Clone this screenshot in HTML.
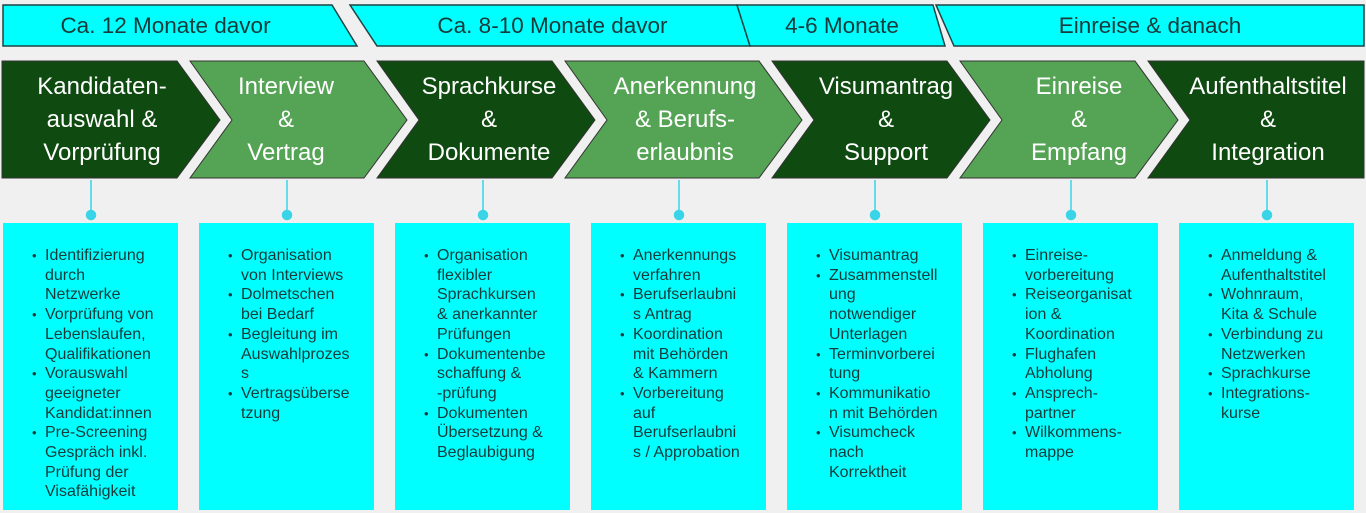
<!DOCTYPE html>
<html><head><meta charset="utf-8"><style>
body{margin:0;width:1366px;height:513px;background:#f0f0f0;position:relative;overflow:hidden;font-family:"Liberation Sans",Arial,sans-serif}
svg{position:absolute;left:0;top:0}
.h{position:absolute;top:5px;height:41px;line-height:42px;font-size:22.5px;color:#173b3b;text-align:center;white-space:nowrap}
.c{position:absolute;top:70px;font-size:24px;line-height:33px;color:#fff;text-align:center;white-space:nowrap;width:200px}
.b{position:absolute;top:246px;font-size:16px;line-height:19.7px;color:#173b3b;white-space:nowrap}
.b div{padding-left:13px;position:relative}
.b div.s::before{content:"•";position:absolute;left:0;font-size:13px}
</style></head><body>
<svg width="1366" height="513">
<g fill="#00ffff" stroke="#1d4444" stroke-width="1.5">
<polygon points="3,5 332,5 357,46 3,46"/>
<polygon points="350,5 737,5 750,46 377,46"/>
<polygon points="737,5 933,5 945,46 750,46"/>
<polygon points="936,5 1364,5 1364,46 954,46"/>
</g>
<g stroke="#333" stroke-width="1">
<polygon fill="#0f4a10" points="2,61 177,61 220,120 177,178 2,178"/>
<polygon fill="#55a355" points="190,61 364,61 407,120 364,178 190,178 232,120"/>
<polygon fill="#0f4a10" points="377,61 552,61 595,120 552,178 377,178 419,120"/>
<polygon fill="#55a355" points="565,61 759,61 802,120 759,178 565,178 607,120"/>
<polygon fill="#0f4a10" points="772,61 947,61 990,120 947,178 772,178 814,120"/>
<polygon fill="#55a355" points="960,61 1135,61 1178,120 1135,178 960,178 1002,120"/>
<polygon fill="#0f4a10" points="1148,61 1364,61 1364,178 1148,178 1190,120"/>
</g>
<g fill="#00ffff">
<rect x="3" y="223" width="175" height="287"/><rect x="199" y="223" width="175" height="287"/>
<rect x="395" y="223" width="175" height="287"/><rect x="591" y="223" width="175" height="287"/>
<rect x="787" y="223" width="175" height="287"/><rect x="983" y="223" width="175" height="287"/>
<rect x="1179" y="223" width="175" height="287"/>
</g>
<g stroke="#3ad4e8" stroke-width="1.5" fill="#3ad4e8">
<line x1="91" y1="180" x2="91" y2="214"/><circle cx="91" cy="215" r="4.5"/>
<line x1="287" y1="180" x2="287" y2="214"/><circle cx="287" cy="215" r="4.5"/>
<line x1="483" y1="180" x2="483" y2="214"/><circle cx="483" cy="215" r="4.5"/>
<line x1="679" y1="180" x2="679" y2="214"/><circle cx="679" cy="215" r="4.5"/>
<line x1="875" y1="180" x2="875" y2="214"/><circle cx="875" cy="215" r="4.5"/>
<line x1="1071" y1="180" x2="1071" y2="214"/><circle cx="1071" cy="215" r="4.5"/>
<line x1="1267" y1="180" x2="1267" y2="214"/><circle cx="1267" cy="215" r="4.5"/>
</g>
</svg>
<div class="h" style="left:3px;width:325px">Ca. 12 Monate davor</div>
<div class="h" style="left:380px;width:345px">Ca. 8-10 Monate davor</div>
<div class="h" style="left:752px;width:180px">4-6 Monate</div>
<div class="h" style="left:950px;width:400px">Einreise &amp; danach</div>

<div class="c" style="left:2px">Kandidaten-<br>auswahl &amp;<br>Vorprüfung</div>
<div class="c" style="left:186px">Interview<br>&amp;<br>Vertrag</div>
<div class="c" style="left:389px">Sprachkurse<br>&amp;<br>Dokumente</div>
<div class="c" style="left:585px">Anerkennung<br>&amp; Berufs-<br>erlaubnis</div>
<div class="c" style="left:786px">Visumantrag<br>&amp;<br>Support</div>
<div class="c" style="left:979px">Einreise<br>&amp;<br>Empfang</div>
<div class="c" style="left:1168px">Aufenthaltstitel<br>&amp;<br>Integration</div>

<div class="b" style="left:32px"><div class="s">Identifizierung</div><div>durch</div><div>Netzwerke</div><div class="s">Vorprüfung von</div><div>Lebenslaufen,</div><div>Qualifikationen</div><div class="s">Vorauswahl</div><div>geeigneter</div><div>Kandidat:innen</div><div class="s">Pre-Screening</div><div>Gespräch inkl.</div><div>Prüfung der</div><div>Visafähigkeit</div></div>
<div class="b" style="left:228px"><div class="s">Organisation</div><div>von Interviews</div><div class="s">Dolmetschen</div><div>bei Bedarf</div><div class="s">Begleitung im</div><div>Auswahlprozes</div><div>s</div><div class="s">Vertragsüberse</div><div>tzung</div></div>
<div class="b" style="left:424px"><div class="s">Organisation</div><div>flexibler</div><div>Sprachkursen</div><div>&amp; anerkannter</div><div>Prüfungen</div><div class="s">Dokumentenbe</div><div>schaffung &amp;</div><div>-prüfung</div><div class="s">Dokumenten</div><div>Übersetzung &amp;</div><div>Beglaubigung</div></div>
<div class="b" style="left:620px"><div class="s">Anerkennungs</div><div>verfahren</div><div class="s">Berufserlaubni</div><div>s Antrag</div><div class="s">Koordination</div><div>mit Behörden</div><div>&amp; Kammern</div><div class="s">Vorbereitung</div><div>auf</div><div>Berufserlaubni</div><div>s / Approbation</div></div>
<div class="b" style="left:816px"><div class="s">Visumantrag</div><div class="s">Zusammenstell</div><div>ung</div><div>notwendiger</div><div>Unterlagen</div><div class="s">Terminvorberei</div><div>tung</div><div class="s">Kommunikatio</div><div>n mit Behörden</div><div class="s">Visumcheck</div><div>nach</div><div>Korrektheit</div></div>
<div class="b" style="left:1012px"><div class="s">Einreise-</div><div>vorbereitung</div><div class="s">Reiseorganisat</div><div>ion &amp;</div><div>Koordination</div><div class="s">Flughafen</div><div>Abholung</div><div class="s">Ansprech-</div><div>partner</div><div class="s">Wilkommens-</div><div>mappe</div></div>
<div class="b" style="left:1208px"><div class="s">Anmeldung &amp;</div><div>Aufenthaltstitel</div><div class="s">Wohnraum,</div><div>Kita &amp; Schule</div><div class="s">Verbindung zu</div><div>Netzwerken</div><div class="s">Sprachkurse</div><div class="s">Integrations-</div><div>kurse</div></div>
</body></html>
